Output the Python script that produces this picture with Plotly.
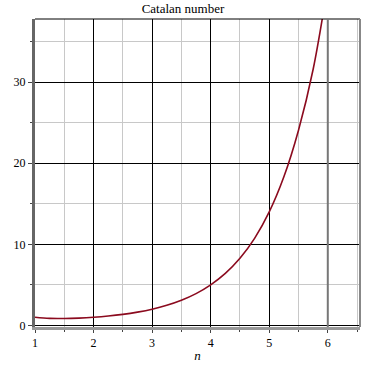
import plotly.graph_objects as go

# values (Catalan number curve)
n_vals = [1.0, 1.25, 1.5, 1.75, 2.0, 2.25, 2.5, 2.75, 3.0, 3.25, 3.5, 3.75, 4.0,
          4.25, 4.5, 4.75, 5.0, 5.25, 5.5, 5.75, 6.0]
c_vals = [1.0, 0.86, 0.85, 0.90, 1.0, 1.15, 1.36, 1.64, 2.0, 2.48, 3.10, 3.92, 5.0,
          6.41, 8.28, 10.74, 14.0, 18.33, 24.08, 31.6, 42.0]
x_ticks = [1, 2, 3, 4, 5, 6]
y_ticks = [0, 10, 20, 30]

fig = go.Figure()
fig.add_trace(go.Scatter(x=n_vals, y=c_vals, mode="lines",
                         line=dict(color="#8B0A1E", width=1.6, shape="spline"),
                         cliponaxis=True, showlegend=False))

font = dict(family="Liberation Serif, Times New Roman, serif", size=12, color="black")

fig.update_layout(
    width=365, height=365,
    margin=dict(l=35, r=5, t=19, b=38, autoexpand=False),
    paper_bgcolor="white", plot_bgcolor="white",
    font=font,
    title=dict(text="Catalan number", x=183 / 365, xanchor="center", xref="container",
               y=0.99, yanchor="top",
               font=dict(family="Liberation Serif, serif", size=13, color="black")),
)
fig.update_xaxes(
    range=[1, 6.55], tickvals=x_ticks, ticks="outside", ticklen=3, tickcolor="#444",
    showgrid=True, gridcolor="black", gridwidth=1,
    minor=dict(dtick=0.5, tick0=1, showgrid=True, gridcolor="#c8c8c8", gridwidth=1,
               ticks="outside", ticklen=2, tickcolor="#444"),
    showline=True, linecolor="#999", linewidth=3, mirror=False,
    zeroline=False, automargin=False,
    title=dict(text="<i>n</i>", standoff=2, font=dict(family="Liberation Serif, serif", size=13)),
    tickfont=font,
)
fig.update_yaxes(
    range=[-0.2, 37.8], tickvals=y_ticks, ticks="outside", ticklen=4, tickcolor="#444",
    showgrid=True, gridcolor="black", gridwidth=1,
    minor=dict(dtick=5, tick0=0, showgrid=True, gridcolor="#c8c8c8", gridwidth=1,
               ticks="outside", ticklen=2, tickcolor="#444"),
    showline=True, linecolor="#666", linewidth=3, mirror=False,
    zeroline=False, automargin=False, tickfont=font,
)
# box edges
fig.add_shape(type="line", xref="paper", yref="paper", x0=0, x1=1, y0=1, y1=1,
              line=dict(color="black", width=1))
fig.add_shape(type="line", xref="paper", yref="paper", x0=1, x1=1, y0=0, y1=1,
              line=dict(color="#888", width=2))
fig.add_shape(type="line", xref="x", yref="paper", x0=6, x1=6, y0=0, y1=1,
              line=dict(color="#777", width=2))

fig.write_html("out.html")
